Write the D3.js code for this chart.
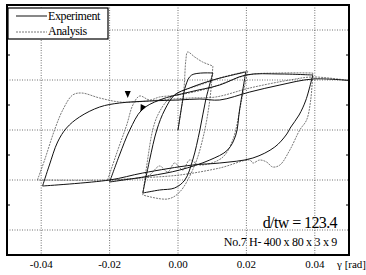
<!DOCTYPE html>
<html>
<head>
<meta charset="utf-8">
<script src="https://cdn.jsdelivr.net/npm/d3@7"></script>
<style>
  body { margin: 0; background: #fff; }
  svg text { font-family: "Liberation Serif", "DejaVu Serif", serif; fill: #000; }
</style>
</head>
<body>
<svg id="chart" width="366" height="275"></svg>
<script>
// x ticks (shear strain, rad) and grid levels (normalised shear force)
var xTicks = [-0.04, -0.02, 0.00, 0.02, 0.04];
var xTickLabels = ["-0.04", "-0.02", "0.00", "0.02", "0.04"];
var yGrid = [-2, -1, 0, 1, 2];
var yMinor = [-1.5, -0.5, 0.5, 1.5];

// Experiment, one array per half cycle: [gamma, Q]
var expSegments = [
  [[0,0],[0.0014,0.6],[0.0023,0.9],[0.004,1.1],[0.0102,1.14]],
  [[0.0102,1.14],[0.0081,0.6],[0.0064,0],[0.0043,-0.6],[0.002,-1.0],[-0.001,-1.16],[-0.0054,-1.2],[-0.0103,-1.26]],
  [[-0.0103,-1.26],[-0.0083,-0.6],[-0.0062,0],[-0.0039,0.4],[-0.001,0.7],[0.0034,0.84],[0.0102,1.0],[0.0198,1.16]],
  [[0.0198,1.16],[0.018,0.4],[0.0169,-0.1],[0.0145,-0.4],[0.0093,-0.6],[0.0005,-0.8],[-0.0083,-0.92],[-0.02,-1.04]],
  [[-0.02,-1.04],[-0.0171,-0.5],[-0.0141,0],[-0.0106,0.4],[-0.0054,0.6],[0.0034,0.76],[0.0122,0.9],[0.0198,1.1],[0.0298,1.12],[0.0394,1.1]],
  [[0.0394,1.1],[0.0374,0.6],[0.0354,0.3],[0.033,0.06],[0.0316,-0.1],[0.0283,-0.34],[0.0219,-0.56],[0.0122,-0.66],[0.0043,-0.7],[-0.0103,-0.86],[-0.02,-1.0],[-0.0396,-1.12]],
  [[-0.0396,-1.12],[-0.0376,-0.7],[-0.0352,-0.24],[-0.0326,0.04],[-0.0288,0.26],[-0.0229,0.46],[-0.0171,0.54],[-0.0083,0.58],[0,0.6],[0.0064,0.62],[0.0122,0.6],[0.021,0.76],[0.0298,0.9],[0.0394,1.02],[0.05,0.99]]
];

// Analysis, same layout
var anaSegments = [
  [[0,0],[0.0017,0.8],[0.0023,1.4],[0.0028,1.56],[0.0049,1.46],[0.0072,1.36],[0.0102,1.28]],
  [[0.0102,1.28],[0.0093,0.6],[0.0075,-0.1],[0.0049,-0.7],[0.0005,-1.24],[-0.003,-1.38],[-0.0103,-1.3]],
  [[-0.0103,-1.3],[-0.0089,-0.6],[-0.0074,0],[-0.0059,0.3],[-0.003,0.6],[0.0005,0.76],[0.0064,0.9],[0.0122,1.04],[0.0204,1.18]],
  [[0.0204,1.18],[0.0186,0.6],[0.016,-0.2],[0.0128,-0.56],[0.0064,-0.7],[0.0034,-0.6],[0.0014,-0.8],[-0.001,-0.66],[-0.003,-0.84],[-0.0054,-0.72],[-0.0083,-0.9],[-0.0112,-0.96],[-0.0206,-1.0]],
  [[-0.0206,-1.0],[-0.0176,-0.4],[-0.015,0.1],[-0.0132,0.5],[-0.0112,0.68],[-0.0083,0.6],[-0.0054,0.66],[0,0.7],[0.0093,0.84],[0.0204,1.1],[0.0298,1.14],[0.0394,1.14]],
  [[0.0394,1.14],[0.0388,0.6],[0.0376,0.2],[0.0356,0],[0.0327,-0.4],[0.0298,-0.7],[0.0277,-0.74],[0.0259,-0.64],[0.0239,-0.6],[0.0219,-0.66],[0.021,-0.6],[0.0122,-0.76],[0.0005,-0.9],[-0.0112,-0.96],[-0.02,-1.0],[-0.0411,-1.0]],
  [[-0.0411,-1.0],[-0.039,-0.6],[-0.0361,0],[-0.0337,0.4],[-0.0308,0.7],[-0.0282,0.74],[-0.0229,0.64],[-0.0171,0.56],[-0.0127,0.56],[-0.0054,0.6],[0.0034,0.64],[0.011,0.66],[0.021,0.84],[0.0327,1.0],[0.0394,1.06],[0.05,0.99]]
];

// loading direction arrows: [gamma, Q, angle]
var arrows = [[-0.0147, 0.7, 0], [-0.0106, 0.42, 25]];

var svg = d3.select("#chart");
var plotL = 7, plotR = 349, plotT = 5, plotB = 255;

var x = d3.scaleLinear().domain([-0.05, 0.05]).range([plotL, plotR]);
var y = d3.scaleLinear().domain([-2.5, 2.5]).range([plotB, plotT]);

// grid
svg.append("g").selectAll("line")
    .data(xTicks).enter().append("line")
    .attr("x1", function(d){ return x(d); }).attr("x2", function(d){ return x(d); })
    .attr("y1", plotT).attr("y2", plotB)
    .style("stroke", "#333").style("stroke-width", 0.7).style("stroke-dasharray", "1,1.5");
svg.append("g").selectAll("line")
    .data(yGrid).enter().append("line")
    .attr("x1", plotL).attr("x2", plotR)
    .attr("y1", function(d){ return y(d); }).attr("y2", function(d){ return y(d); })
    .style("stroke", "#333").style("stroke-width", 0.7).style("stroke-dasharray", "1,1.5");

// minor ticks on left and right
svg.append("g").selectAll("line")
    .data(yMinor).enter().append("line")
    .attr("x1", plotL).attr("x2", plotL + 3)
    .attr("y1", function(d){ return y(d); }).attr("y2", function(d){ return y(d); })
    .style("stroke", "#000");
svg.append("g").selectAll("line")
    .data(yMinor).enter().append("line")
    .attr("x1", plotR - 3).attr("x2", plotR)
    .attr("y1", function(d){ return y(d); }).attr("y2", function(d){ return y(d); })
    .style("stroke", "#000");

var line = d3.line()
    .x(function(d){ return x(d[0]); })
    .y(function(d){ return y(d[1]); })
    .curve(d3.curveCatmullRom.alpha(0.5));

svg.append("g").selectAll("path")
    .data(anaSegments).enter().append("path")
    .attr("d", line)
    .style("fill", "none").style("stroke", "#555")
    .style("stroke-width", 0.8).style("stroke-dasharray", "2,1");

svg.append("g").selectAll("path")
    .data(expSegments).enter().append("path")
    .attr("d", line)
    .style("fill", "none").style("stroke", "#111")
    .style("stroke-width", 1);

svg.append("g").selectAll("path")
    .data(arrows).enter().append("path")
    .attr("d", "M-3,-4 L3,-4 L0,3 Z")
    .attr("transform", function(d){ return "translate(" + x(d[0]) + "," + y(d[1]) + ") rotate(" + d[2] + ")"; })
    .style("fill", "#000");

// frame
svg.append("rect")
    .attr("x", plotL).attr("y", plotT)
    .attr("width", plotR - plotL).attr("height", plotB - plotT)
    .style("fill", "none").style("stroke", "#000").style("stroke-width", 2);

// x tick labels
svg.append("g").selectAll("text")
    .data(xTicks).enter().append("text")
    .attr("x", function(d){ return x(d); })
    .attr("y", 268)
    .attr("text-anchor", "middle")
    .style("font-size", "11px")
    .text(function(d, i){ return xTickLabels[i]; });

svg.append("text").attr("x", 366).attr("y", 268)
    .attr("text-anchor", "end").style("font-size", "11px")
    .text("γ [rad]");

// legend
var legend = svg.append("g");
legend.append("rect")
    .attr("x", 8).attr("y", 8).attr("width", 100).attr("height", 31)
    .style("fill", "#fff").style("stroke", "#000").style("stroke-width", 1.2);
legend.append("line").attr("x1", 16).attr("x2", 47).attr("y1", 16).attr("y2", 16)
    .style("stroke", "#111").style("stroke-width", 1);
legend.append("line").attr("x1", 16).attr("x2", 47).attr("y1", 32).attr("y2", 32)
    .style("stroke", "#555").style("stroke-width", 0.8).style("stroke-dasharray", "2,1");
legend.append("text").attr("x", 48).attr("y", 20).style("font-size", "12px")
    .style("letter-spacing", "-0.4px").text("Experiment");
legend.append("text").attr("x", 48).attr("y", 35).style("font-size", "12px")
    .style("letter-spacing", "-0.4px").text("Analysis");

// specimen labels
svg.append("text").attr("x", 337).attr("y", 228)
    .attr("text-anchor", "end").style("font-size", "16px").style("letter-spacing", "-0.6px")
    .text("d/tw = 123.4");
svg.append("text").attr("x", 337).attr("y", 246)
    .attr("text-anchor", "end").style("font-size", "12px").style("letter-spacing", "-0.3px")
    .text("No.7 H- 400 x 80 x 3 x 9");
</script>
</body>
</html>
